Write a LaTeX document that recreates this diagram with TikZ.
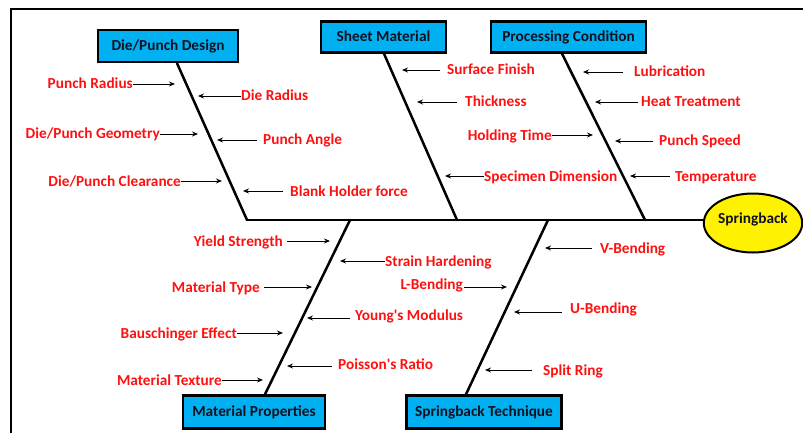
\documentclass[tikz,border=0pt]{standalone}
\usepackage{fontspec}
\setmainfont{Carlito}
\usetikzlibrary{arrows.meta,shapes.geometric}
\definecolor{boxblue}{HTML}{00B0F0}
\definecolor{lblred}{HTML}{FF1010}
\definecolor{boxtext}{HTML}{111122}
\begin{document}
\begin{tikzpicture}[x=1pt,y=-1pt,
  lbl/.style={text=lblred, font=\fontsize{15.3}{17}\selectfont\bfseries, inner sep=0pt, text height=10pt, text depth=0pt},
  lblL/.style={lbl, anchor=east},
  lblR/.style={lbl, anchor=west},
  cat/.style={draw=black, line width=2.4pt, fill=boxblue, inner sep=0pt, font=\fontsize{15.3}{17}\selectfont\bfseries, text=boxtext, text height=10pt, text depth=1.5pt},
  bone/.style={line width=2.5pt, line cap=round},
  arr/.style={-{Stealth[length=6pt,width=5pt]}, line width=0.9pt}]
\useasboundingbox (0,0) rectangle (803,433);
\clip (0,0) rectangle (803,433);
% frame
\draw[line width=2pt] (11,445) -- (11,9) -- (815,9);

% category boxes
\node[cat, minimum width=140pt, minimum height=32pt] (dp) at (168,46) {Die/Punch Design};
\node[cat, minimum width=125pt, minimum height=31pt] (sm) at (383.5,37) {Sheet Material};
\node[cat, minimum width=155pt, minimum height=31pt] (pc) at (568.5,37) {Processing Condition};
\node[cat, minimum width=142pt, minimum height=33pt] (mp) at (254,412) {Material Properties};
\node[cat, minimum width=155pt, minimum height=33pt] (st) at (484,412) {Springback Technique};

% effect
\node[ellipse, draw=black, line width=2pt, fill=yellow, minimum width=93pt, minimum height=59pt, inner sep=0pt,
      font=\fontsize{15.3}{17}\selectfont\bfseries, text=boxtext, text height=10pt, text depth=9pt] (sb) at (753,223) {Springback};

% spine and bones
\coordinate (j1) at (247,220);
\coordinate (j2) at (457,220);
\coordinate (j3) at (645,220);
\coordinate (j4) at (350,220);
\coordinate (j5) at (548,220);
\draw[line width=2.5pt] (j1) -- (j1 -| sb.west);
\draw[bone] ([xshift=9pt]dp.south) -- (j1);
\draw[bone] ([xshift=0.5pt]sm.south) -- (j2);
\draw[bone] ([xshift=-6.5pt]pc.south) -- (j3);
\draw[bone] ([xshift=11pt]mp.north) -- (j4);
\draw[bone] ([xshift=-18pt]st.north) -- (j5);

% Die/Punch Design causes
\node[lblL] (pr) at (133,84) {Punch Radius};
\coordinate (prT) at (175,84);
\draw[arr] (pr.east) -- (prT);
\node[lblR] (dr) at (241,96) {Die Radius};
\coordinate (drT) at (198,96);
\draw[arr] (dr.west) -- (drT);
\node[lblL] (dg) at (160,134) {Die/Punch Geometry};
\coordinate (dgT) at (198,134);
\draw[arr] (dg.east) -- (dgT);
\node[lblR] (pa) at (263,140) {Punch Angle};
\coordinate (paS) at (257,140);
\coordinate (paT) at (217,140);
\draw[arr] (paS) -- (paT);
\node[lblL] (dc) at (181,181) {Die/Punch Clearance};
\coordinate (dcT) at (222,181);
\draw[arr] (dc.east) -- (dcT);
\node[lblR] (bh) at (290,191) {Blank Holder force};
\coordinate (bhS) at (283,191);
\coordinate (bhT) at (243,191);
\draw[arr] (bhS) -- (bhT);

% Sheet Material causes
\node[lblR] (sf) at (447,70) {Surface Finish};
\coordinate (sfS) at (440,70);
\coordinate (sfT) at (402,70);
\draw[arr] (sfS) -- (sfT);
\node[lblR] (th) at (465,102) {Thickness};
\coordinate (thS) at (457,102);
\coordinate (thT) at (417,102);
\draw[arr] (thS) -- (thT);
\node[lblR] (sd) at (484,176) {Specimen Dimension};
\coordinate (sdT) at (445,176);
\draw[arr] (sd.west) -- (sdT);

% Processing Condition causes
\node[lblR] (lu) at (634,72) {Lubrication};
\coordinate (luS) at (623,72);
\coordinate (luT) at (583,72);
\draw[arr] (luS) -- (luT);
\node[lblR] (ht) at (641,102) {Heat Treatment};
\coordinate (htS) at (638,102);
\coordinate (htT) at (595,102);
\draw[arr] (htS) -- (htT);
\node[lblL] (hold) at (552,135) {Holding Time};
\coordinate (holdT) at (593,135);
\draw[arr] (hold.east) -- (holdT);
\node[lblR] (ps) at (659,141) {Punch Speed};
\coordinate (psS) at (653,141);
\coordinate (psT) at (615,141);
\draw[arr] (psS) -- (psT);
\node[lblR] (te) at (675,176) {Temperature};
\coordinate (teS) at (670,176);
\coordinate (teT) at (630,176);
\draw[arr] (teS) -- (teT);

% Material Properties causes
\node[lblL] (ys) at (283,241) {Yield Strength};
\coordinate (ysS) at (287,241);
\coordinate (ysT) at (330,241);
\draw[arr] (ysS) -- (ysT);
\node[lblR] (sh) at (385,261) {Strain Hardening};
\coordinate (shT) at (340,261);
\draw[arr] (sh.west) -- (shT);
\node[lblL] (mt) at (260,287) {Material Type};
\coordinate (mtS) at (264,287);
\coordinate (mtT) at (312,287);
\draw[arr] (mtS) -- (mtT);
\node[lblR] (ym) at (355,315) {Young\textquotesingle s Modulus};
\coordinate (ymS) at (350,318);
\coordinate (ymT) at (307,318);
\draw[arr] (ymS) -- (ymT);
\node[lblL] (be) at (237,333) {Bauschinger Effect};
\coordinate (beT) at (283,333);
\draw[arr] (be.east) -- (beT);
\node[lblR] (pois) at (338,364) {Poisson\textquotesingle s Ratio};
\coordinate (poisS) at (332,366);
\coordinate (poisT) at (287,366);
\draw[arr] (poisS) -- (poisT);
\node[lblL] (mtx) at (222,380) {Material Texture};
\coordinate (mtxT) at (263,380);
\draw[arr] (mtx.east) -- (mtxT);

% Springback Technique causes
\node[lblR] (vb) at (600,248) {V-Bending};
\coordinate (vbS) at (592,248);
\coordinate (vbT) at (545,248);
\draw[arr] (vbS) -- (vbT);
\node[lblL] (lb) at (463,284) {L-Bending};
\coordinate (lbS) at (464,287);
\coordinate (lbT) at (507,287);
\draw[arr] (lbS) -- (lbT);
\node[lblR] (ub) at (570,308) {U-Bending};
\coordinate (ubS) at (562,312);
\coordinate (ubT) at (514,312);
\draw[arr] (ubS) -- (ubT);
\node[lblR] (sr) at (543,370) {Split Ring};
\coordinate (srS) at (532,370);
\coordinate (srT) at (485,370);
\draw[arr] (srS) -- (srT);
\end{tikzpicture}
\end{document}
